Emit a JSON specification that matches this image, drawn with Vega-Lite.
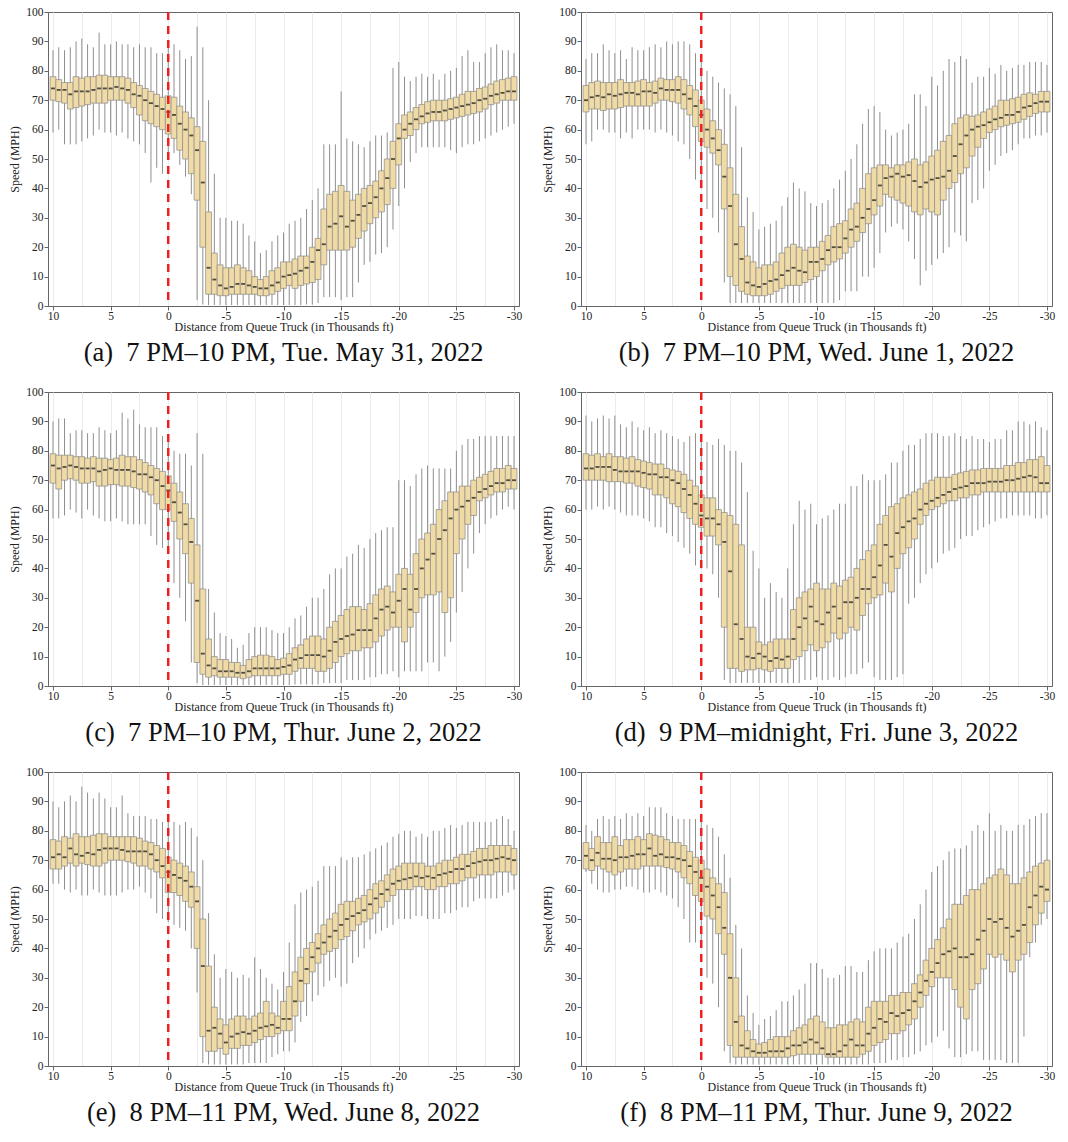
{
"$schema":"https://vega.github.io/schema/vega-lite/v6.json",
"padding":{"left":8,"top":5,"right":5,"bottom":5},
"background":"white",
"config":{
"font":"Liberation Serif",
"view":{"stroke":"#666","strokeWidth":1},
"axis":{"labelFont":"Liberation Serif","titleFont":"Liberation Serif","labelFontSize":11.5,"titleFontSize":12,"titleFontWeight":"normal","labelColor":"#222","titleColor":"#222","domainColor":"#666","tickColor":"#666","tickSize":4,"labelOverlap":false},
"title":{"font":"Liberation Serif","fontSize":26.5,"fontWeight":"normal","color":"#111","offset":7}
},
"datasets":{"d":[
{"p":"a","x":10,"lo":59,"q1":70,"md":74,"q3":78,"hi":87},
{"p":"a","x":9.5,"lo":60,"q1":69.5,"md":73.5,"q3":77,"hi":88},
{"p":"a","x":9,"lo":55,"q1":69,"md":73.5,"q3":76,"hi":87},
{"p":"a","x":8.5,"lo":55,"q1":67,"md":72,"q3":76,"hi":88},
{"p":"a","x":8,"lo":55,"q1":67.5,"md":73,"q3":78,"hi":90},
{"p":"a","x":7.5,"lo":56,"q1":68,"md":73,"q3":77.5,"hi":91},
{"p":"a","x":7,"lo":57,"q1":68.5,"md":73,"q3":78,"hi":89},
{"p":"a","x":6.5,"lo":58,"q1":69,"md":73.5,"q3":78,"hi":88},
{"p":"a","x":6,"lo":60,"q1":69,"md":74,"q3":78.5,"hi":93},
{"p":"a","x":5.5,"lo":59,"q1":69,"md":74,"q3":78.5,"hi":89},
{"p":"a","x":5,"lo":59,"q1":70,"md":74,"q3":78,"hi":89},
{"p":"a","x":4.5,"lo":58,"q1":70,"md":74.5,"q3":78,"hi":90},
{"p":"a","x":4,"lo":59,"q1":70,"md":74,"q3":78,"hi":89},
{"p":"a","x":3.5,"lo":57,"q1":69,"md":73.5,"q3":77.5,"hi":89},
{"p":"a","x":3,"lo":56,"q1":67.5,"md":72,"q3":76,"hi":88},
{"p":"a","x":2.5,"lo":55,"q1":65,"md":71.5,"q3":75,"hi":89},
{"p":"a","x":2,"lo":52,"q1":63,"md":70,"q3":74,"hi":88},
{"p":"a","x":1.5,"lo":42,"q1":62,"md":69,"q3":73,"hi":88},
{"p":"a","x":1,"lo":47,"q1":61,"md":68,"q3":72,"hi":86},
{"p":"a","x":0.5,"lo":45,"q1":60,"md":67,"q3":71,"hi":86},
{"p":"a","x":0,"lo":50,"q1":58.5,"md":66,"q3":71.5,"hi":88},
{"p":"a","x":-0.5,"lo":52,"q1":57,"md":65,"q3":71,"hi":89},
{"p":"a","x":-1,"lo":48,"q1":53,"md":62,"q3":68,"hi":87},
{"p":"a","x":-1.5,"lo":44,"q1":50,"md":60,"q3":66,"hi":84},
{"p":"a","x":-2,"lo":38,"q1":45,"md":58,"q3":64,"hi":85},
{"p":"a","x":-2.5,"lo":2,"q1":36,"md":53,"q3":61,"hi":95},
{"p":"a","x":-3,"lo":0.5,"q1":20,"md":42,"q3":56,"hi":88},
{"p":"a","x":-3.5,"lo":0.3,"q1":4,"md":13,"q3":32,"hi":70},
{"p":"a","x":-4,"lo":0.3,"q1":4,"md":9,"q3":18,"hi":45},
{"p":"a","x":-4.5,"lo":0.3,"q1":3.5,"md":7,"q3":14,"hi":30},
{"p":"a","x":-5,"lo":0.3,"q1":3.5,"md":6,"q3":13,"hi":30},
{"p":"a","x":-5.5,"lo":0.3,"q1":4,"md":6.5,"q3":13,"hi":29},
{"p":"a","x":-6,"lo":0.3,"q1":4,"md":7.5,"q3":14,"hi":29},
{"p":"a","x":-6.5,"lo":0.3,"q1":4,"md":7.5,"q3":13,"hi":28},
{"p":"a","x":-7,"lo":0.3,"q1":4,"md":7,"q3":12,"hi":24},
{"p":"a","x":-7.5,"lo":0.3,"q1":4,"md":6.5,"q3":10,"hi":22},
{"p":"a","x":-8,"lo":0.3,"q1":3.5,"md":6,"q3":9,"hi":18},
{"p":"a","x":-8.5,"lo":0.3,"q1":3.5,"md":6,"q3":10,"hi":19},
{"p":"a","x":-9,"lo":0.3,"q1":4,"md":7,"q3":12,"hi":22},
{"p":"a","x":-9.5,"lo":0.3,"q1":5,"md":8,"q3":13,"hi":24},
{"p":"a","x":-10,"lo":0.3,"q1":6,"md":10,"q3":15,"hi":25},
{"p":"a","x":-10.5,"lo":0.3,"q1":7,"md":10.5,"q3":15,"hi":28},
{"p":"a","x":-11,"lo":0.3,"q1":6,"md":11,"q3":16,"hi":29},
{"p":"a","x":-11.5,"lo":0.3,"q1":7,"md":12,"q3":17,"hi":30},
{"p":"a","x":-12,"lo":0.5,"q1":7.5,"md":13,"q3":17,"hi":33},
{"p":"a","x":-12.5,"lo":0.5,"q1":8,"md":15,"q3":20,"hi":36},
{"p":"a","x":-13,"lo":1,"q1":9,"md":19,"q3":23,"hi":40},
{"p":"a","x":-13.5,"lo":3,"q1":14,"md":21,"q3":33,"hi":55},
{"p":"a","x":-14,"lo":3,"q1":19,"md":27,"q3":38,"hi":55},
{"p":"a","x":-14.5,"lo":3,"q1":19,"md":28,"q3":39,"hi":55},
{"p":"a","x":-15,"lo":2,"q1":19,"md":30.5,"q3":41,"hi":73},
{"p":"a","x":-15.5,"lo":3,"q1":19,"md":27,"q3":39,"hi":57},
{"p":"a","x":-16,"lo":3,"q1":20,"md":29,"q3":36,"hi":56},
{"p":"a","x":-16.5,"lo":8,"q1":23,"md":31,"q3":38,"hi":55},
{"p":"a","x":-17,"lo":14,"q1":25.5,"md":34,"q3":40,"hi":54},
{"p":"a","x":-17.5,"lo":15,"q1":28,"md":35,"q3":41,"hi":56},
{"p":"a","x":-18,"lo":17.5,"q1":30,"md":37,"q3":42.5,"hi":58},
{"p":"a","x":-18.5,"lo":18,"q1":32,"md":40,"q3":46,"hi":58},
{"p":"a","x":-19,"lo":20,"q1":34.5,"md":43.5,"q3":50,"hi":59},
{"p":"a","x":-19.5,"lo":26,"q1":40,"md":50,"q3":56,"hi":81},
{"p":"a","x":-20,"lo":34,"q1":48,"md":57,"q3":62,"hi":83},
{"p":"a","x":-20.5,"lo":40,"q1":57,"md":60,"q3":65,"hi":78},
{"p":"a","x":-21,"lo":49,"q1":58,"md":62,"q3":66,"hi":76.5},
{"p":"a","x":-21.5,"lo":52,"q1":60,"md":63.5,"q3":67.5,"hi":78},
{"p":"a","x":-22,"lo":54,"q1":62,"md":64.5,"q3":68.5,"hi":79},
{"p":"a","x":-22.5,"lo":54,"q1":62.5,"md":65.5,"q3":69.5,"hi":78},
{"p":"a","x":-23,"lo":54,"q1":63,"md":66,"q3":70,"hi":79},
{"p":"a","x":-23.5,"lo":54,"q1":63,"md":66,"q3":70,"hi":77},
{"p":"a","x":-24,"lo":54,"q1":63,"md":66.5,"q3":70,"hi":79},
{"p":"a","x":-24.5,"lo":53,"q1":63.5,"md":67,"q3":70.5,"hi":80},
{"p":"a","x":-25,"lo":52,"q1":64,"md":67.5,"q3":71,"hi":81},
{"p":"a","x":-25.5,"lo":54,"q1":64.5,"md":68,"q3":72,"hi":85},
{"p":"a","x":-26,"lo":55,"q1":65,"md":68.5,"q3":73,"hi":87},
{"p":"a","x":-26.5,"lo":55,"q1":65.5,"md":69,"q3":73,"hi":83},
{"p":"a","x":-27,"lo":56,"q1":66,"md":70,"q3":74,"hi":83},
{"p":"a","x":-27.5,"lo":57,"q1":67,"md":70.5,"q3":74.5,"hi":86},
{"p":"a","x":-28,"lo":58,"q1":68.5,"md":71.5,"q3":75.5,"hi":88},
{"p":"a","x":-28.5,"lo":59,"q1":69,"md":72,"q3":76.5,"hi":89},
{"p":"a","x":-29,"lo":60,"q1":70,"md":72.5,"q3":77,"hi":87},
{"p":"a","x":-29.5,"lo":61,"q1":70,"md":73,"q3":77.5,"hi":87},
{"p":"a","x":-30,"lo":62,"q1":70,"md":73,"q3":78,"hi":86},
{"p":"b","x":10,"lo":55,"q1":66,"md":70,"q3":75,"hi":84},
{"p":"b","x":9.5,"lo":56,"q1":67,"md":71,"q3":76,"hi":86},
{"p":"b","x":9,"lo":60,"q1":67,"md":71.5,"q3":76.5,"hi":86},
{"p":"b","x":8.5,"lo":60,"q1":66.5,"md":71,"q3":76,"hi":89},
{"p":"b","x":8,"lo":59,"q1":67,"md":72,"q3":76,"hi":87},
{"p":"b","x":7.5,"lo":59,"q1":67,"md":71.5,"q3":76,"hi":86},
{"p":"b","x":7,"lo":57,"q1":67.5,"md":72,"q3":77,"hi":87},
{"p":"b","x":6.5,"lo":59,"q1":68,"md":72.5,"q3":76,"hi":84},
{"p":"b","x":6,"lo":57,"q1":68,"md":72.5,"q3":76,"hi":88},
{"p":"b","x":5.5,"lo":60,"q1":68,"md":72,"q3":76.5,"hi":87},
{"p":"b","x":5,"lo":60,"q1":68,"md":73,"q3":77,"hi":87},
{"p":"b","x":4.5,"lo":60,"q1":68,"md":73,"q3":76,"hi":88},
{"p":"b","x":4,"lo":59,"q1":69,"md":72.5,"q3":76.5,"hi":89},
{"p":"b","x":3.5,"lo":60,"q1":70,"md":74,"q3":77.5,"hi":88},
{"p":"b","x":3,"lo":59,"q1":70,"md":73.5,"q3":77,"hi":90},
{"p":"b","x":2.5,"lo":58,"q1":69.5,"md":73.5,"q3":77,"hi":89},
{"p":"b","x":2,"lo":56,"q1":69,"md":73.5,"q3":78,"hi":90},
{"p":"b","x":1.5,"lo":55,"q1":67,"md":72,"q3":77,"hi":90},
{"p":"b","x":1,"lo":50,"q1":65,"md":70.5,"q3":75,"hi":89},
{"p":"b","x":0.5,"lo":43,"q1":61,"md":68,"q3":73.5,"hi":86},
{"p":"b","x":0,"lo":40,"q1":56,"md":65,"q3":70,"hi":84},
{"p":"b","x":-0.5,"lo":33,"q1":54,"md":60,"q3":67,"hi":80},
{"p":"b","x":-1,"lo":30,"q1":52,"md":57,"q3":63,"hi":78},
{"p":"b","x":-1.5,"lo":25,"q1":48,"md":53,"q3":60,"hi":76},
{"p":"b","x":-2,"lo":8,"q1":33,"md":44,"q3":55,"hi":74},
{"p":"b","x":-2.5,"lo":1,"q1":10,"md":34,"q3":47,"hi":72},
{"p":"b","x":-3,"lo":1,"q1":7,"md":21,"q3":38,"hi":68},
{"p":"b","x":-3.5,"lo":1,"q1":5,"md":16,"q3":27,"hi":54},
{"p":"b","x":-4,"lo":1,"q1":4,"md":8,"q3":17,"hi":37},
{"p":"b","x":-4.5,"lo":1,"q1":3.5,"md":7,"q3":15,"hi":32},
{"p":"b","x":-5,"lo":1,"q1":3.5,"md":6.5,"q3":13,"hi":26},
{"p":"b","x":-5.5,"lo":1,"q1":3.5,"md":7.5,"q3":14,"hi":27},
{"p":"b","x":-6,"lo":1,"q1":4,"md":8.5,"q3":14,"hi":28},
{"p":"b","x":-6.5,"lo":1,"q1":5,"md":9,"q3":15,"hi":29},
{"p":"b","x":-7,"lo":1,"q1":6,"md":10.5,"q3":18,"hi":34},
{"p":"b","x":-7.5,"lo":1,"q1":7,"md":12,"q3":20,"hi":37},
{"p":"b","x":-8,"lo":1,"q1":7,"md":13,"q3":21,"hi":42},
{"p":"b","x":-8.5,"lo":1,"q1":7,"md":12,"q3":20,"hi":40},
{"p":"b","x":-9,"lo":1,"q1":8,"md":11.5,"q3":19,"hi":39},
{"p":"b","x":-9.5,"lo":1,"q1":9,"md":15,"q3":20,"hi":35},
{"p":"b","x":-10,"lo":1,"q1":10,"md":15,"q3":20,"hi":34},
{"p":"b","x":-10.5,"lo":1,"q1":12,"md":16,"q3":22,"hi":35},
{"p":"b","x":-11,"lo":1,"q1":14,"md":19,"q3":24,"hi":36},
{"p":"b","x":-11.5,"lo":1,"q1":15,"md":20,"q3":27,"hi":40},
{"p":"b","x":-12,"lo":2,"q1":16,"md":20,"q3":28,"hi":43},
{"p":"b","x":-12.5,"lo":5,"q1":18,"md":23,"q3":29,"hi":46},
{"p":"b","x":-13,"lo":5,"q1":20,"md":26,"q3":33,"hi":50},
{"p":"b","x":-13.5,"lo":5,"q1":22,"md":27,"q3":35,"hi":55},
{"p":"b","x":-14,"lo":10,"q1":25,"md":30,"q3":40,"hi":62},
{"p":"b","x":-14.5,"lo":10,"q1":28,"md":33,"q3":45,"hi":67},
{"p":"b","x":-15,"lo":13,"q1":31,"md":36,"q3":47,"hi":68},
{"p":"b","x":-15.5,"lo":18,"q1":34,"md":41,"q3":48,"hi":66},
{"p":"b","x":-16,"lo":25,"q1":38,"md":43.5,"q3":48,"hi":60},
{"p":"b","x":-16.5,"lo":27,"q1":37,"md":44,"q3":47,"hi":58},
{"p":"b","x":-17,"lo":28,"q1":36,"md":45,"q3":48,"hi":59},
{"p":"b","x":-17.5,"lo":26,"q1":35,"md":44,"q3":48,"hi":60},
{"p":"b","x":-18,"lo":22,"q1":34,"md":44.5,"q3":49,"hi":62},
{"p":"b","x":-18.5,"lo":16,"q1":32,"md":42.5,"q3":50,"hi":72},
{"p":"b","x":-19,"lo":7,"q1":31,"md":40.5,"q3":48,"hi":72},
{"p":"b","x":-19.5,"lo":12,"q1":33,"md":42,"q3":49,"hi":68},
{"p":"b","x":-20,"lo":14,"q1":32,"md":43,"q3":51,"hi":78},
{"p":"b","x":-20.5,"lo":16,"q1":31,"md":43.5,"q3":53,"hi":75},
{"p":"b","x":-21,"lo":18,"q1":36,"md":44,"q3":56,"hi":80},
{"p":"b","x":-21.5,"lo":20,"q1":40,"md":46,"q3":58,"hi":84},
{"p":"b","x":-22,"lo":25,"q1":42,"md":51,"q3":62,"hi":83},
{"p":"b","x":-22.5,"lo":24,"q1":45,"md":55,"q3":64,"hi":85},
{"p":"b","x":-23,"lo":22,"q1":47,"md":58,"q3":65,"hi":84},
{"p":"b","x":-23.5,"lo":35,"q1":51,"md":60,"q3":64.5,"hi":76},
{"p":"b","x":-24,"lo":36,"q1":54,"md":61,"q3":65,"hi":78},
{"p":"b","x":-24.5,"lo":40,"q1":57,"md":61.5,"q3":66,"hi":78},
{"p":"b","x":-25,"lo":46,"q1":59,"md":62.5,"q3":67,"hi":81},
{"p":"b","x":-25.5,"lo":48,"q1":60,"md":63.5,"q3":68,"hi":79},
{"p":"b","x":-26,"lo":51,"q1":61,"md":64,"q3":70,"hi":82},
{"p":"b","x":-26.5,"lo":52,"q1":61.5,"md":65,"q3":70,"hi":80},
{"p":"b","x":-27,"lo":53,"q1":62,"md":65,"q3":70.5,"hi":81},
{"p":"b","x":-27.5,"lo":55,"q1":62.5,"md":66,"q3":71,"hi":82},
{"p":"b","x":-28,"lo":57,"q1":63.5,"md":67.5,"q3":72,"hi":82},
{"p":"b","x":-28.5,"lo":57,"q1":64.5,"md":68,"q3":72.5,"hi":83},
{"p":"b","x":-29,"lo":58,"q1":65.5,"md":69,"q3":72,"hi":83},
{"p":"b","x":-29.5,"lo":58,"q1":66,"md":69.5,"q3":73,"hi":83},
{"p":"b","x":-30,"lo":59,"q1":66,"md":69.5,"q3":73,"hi":82},
{"p":"c","x":10,"lo":57,"q1":69,"md":75,"q3":79,"hi":90},
{"p":"c","x":9.5,"lo":57,"q1":67,"md":74,"q3":78.5,"hi":91},
{"p":"c","x":9,"lo":58,"q1":70,"md":74.5,"q3":78.5,"hi":91},
{"p":"c","x":8.5,"lo":60,"q1":70.5,"md":75,"q3":78.5,"hi":86},
{"p":"c","x":8,"lo":59,"q1":70,"md":74.5,"q3":78,"hi":87},
{"p":"c","x":7.5,"lo":57,"q1":69,"md":74,"q3":78,"hi":87},
{"p":"c","x":7,"lo":60,"q1":69,"md":74,"q3":77.5,"hi":86},
{"p":"c","x":6.5,"lo":58,"q1":69.5,"md":74,"q3":78,"hi":86},
{"p":"c","x":6,"lo":57,"q1":68,"md":73,"q3":77.5,"hi":88},
{"p":"c","x":5.5,"lo":56,"q1":68,"md":73.5,"q3":77.5,"hi":87},
{"p":"c","x":5,"lo":56,"q1":68.5,"md":74,"q3":77,"hi":86},
{"p":"c","x":4.5,"lo":57,"q1":68.5,"md":73.5,"q3":77.5,"hi":87},
{"p":"c","x":4,"lo":56,"q1":68,"md":73.5,"q3":78.5,"hi":93},
{"p":"c","x":3.5,"lo":55,"q1":68,"md":73.5,"q3":78,"hi":91},
{"p":"c","x":3,"lo":55,"q1":67.5,"md":73,"q3":78,"hi":94},
{"p":"c","x":2.5,"lo":55,"q1":67,"md":72,"q3":77,"hi":89},
{"p":"c","x":2,"lo":55,"q1":66,"md":72,"q3":76,"hi":88},
{"p":"c","x":1.5,"lo":51,"q1":65,"md":71,"q3":75,"hi":88},
{"p":"c","x":1,"lo":48,"q1":62,"md":70,"q3":74,"hi":88},
{"p":"c","x":0.5,"lo":47,"q1":60,"md":68,"q3":73,"hi":85},
{"p":"c","x":0,"lo":46,"q1":60,"md":66.5,"q3":71.5,"hi":85},
{"p":"c","x":-0.5,"lo":35,"q1":56,"md":62.5,"q3":69,"hi":80},
{"p":"c","x":-1,"lo":30,"q1":50,"md":59,"q3":66,"hi":79},
{"p":"c","x":-1.5,"lo":22,"q1":45,"md":55,"q3":62,"hi":79},
{"p":"c","x":-2,"lo":8,"q1":35,"md":49,"q3":57,"hi":75},
{"p":"c","x":-2.5,"lo":1,"q1":8,"md":29,"q3":48,"hi":86},
{"p":"c","x":-3,"lo":0.3,"q1":4,"md":11,"q3":33,"hi":79},
{"p":"c","x":-3.5,"lo":0.3,"q1":3,"md":7,"q3":16,"hi":33},
{"p":"c","x":-4,"lo":0.3,"q1":3.5,"md":6,"q3":10,"hi":25},
{"p":"c","x":-4.5,"lo":0.3,"q1":3,"md":5,"q3":9,"hi":18},
{"p":"c","x":-5,"lo":0.3,"q1":3,"md":5,"q3":9,"hi":17},
{"p":"c","x":-5.5,"lo":0.3,"q1":3,"md":5,"q3":8,"hi":16},
{"p":"c","x":-6,"lo":0.3,"q1":3,"md":4.5,"q3":8,"hi":13},
{"p":"c","x":-6.5,"lo":0.3,"q1":2.5,"md":4.5,"q3":7,"hi":14},
{"p":"c","x":-7,"lo":0.3,"q1":3,"md":5,"q3":9,"hi":18},
{"p":"c","x":-7.5,"lo":0.3,"q1":3.5,"md":6,"q3":10,"hi":20},
{"p":"c","x":-8,"lo":0.3,"q1":3.5,"md":6,"q3":10.5,"hi":20},
{"p":"c","x":-8.5,"lo":0.3,"q1":3.5,"md":6,"q3":10.5,"hi":20},
{"p":"c","x":-9,"lo":0.3,"q1":3.5,"md":6,"q3":10,"hi":19},
{"p":"c","x":-9.5,"lo":0.3,"q1":3.5,"md":6,"q3":9,"hi":18},
{"p":"c","x":-10,"lo":0.3,"q1":4,"md":6.5,"q3":9.5,"hi":18},
{"p":"c","x":-10.5,"lo":0.3,"q1":4,"md":7,"q3":11,"hi":20},
{"p":"c","x":-11,"lo":0.5,"q1":5,"md":9,"q3":13,"hi":23},
{"p":"c","x":-11.5,"lo":0.5,"q1":6,"md":9.5,"q3":14,"hi":24},
{"p":"c","x":-12,"lo":0.5,"q1":6,"md":10.5,"q3":16,"hi":27},
{"p":"c","x":-12.5,"lo":0.5,"q1":6,"md":10.5,"q3":17,"hi":30},
{"p":"c","x":-13,"lo":0.5,"q1":5,"md":10.5,"q3":17,"hi":30},
{"p":"c","x":-13.5,"lo":1,"q1":5,"md":10,"q3":16,"hi":33},
{"p":"c","x":-14,"lo":1,"q1":6,"md":12,"q3":20,"hi":38},
{"p":"c","x":-14.5,"lo":1,"q1":8,"md":15,"q3":22,"hi":40},
{"p":"c","x":-15,"lo":1,"q1":10,"md":16,"q3":24,"hi":40},
{"p":"c","x":-15.5,"lo":2,"q1":11,"md":17,"q3":26,"hi":44},
{"p":"c","x":-16,"lo":2,"q1":12,"md":17.5,"q3":27,"hi":45},
{"p":"c","x":-16.5,"lo":2,"q1":12,"md":19,"q3":27,"hi":48},
{"p":"c","x":-17,"lo":2,"q1":13,"md":19,"q3":26,"hi":47},
{"p":"c","x":-17.5,"lo":3,"q1":13,"md":19,"q3":28,"hi":50},
{"p":"c","x":-18,"lo":3,"q1":15,"md":23,"q3":31,"hi":52},
{"p":"c","x":-18.5,"lo":4,"q1":17,"md":26,"q3":33,"hi":53},
{"p":"c","x":-19,"lo":4,"q1":19,"md":27,"q3":34,"hi":54},
{"p":"c","x":-19.5,"lo":5,"q1":20,"md":25,"q3":32,"hi":54},
{"p":"c","x":-20,"lo":3,"q1":20,"md":29,"q3":38,"hi":70},
{"p":"c","x":-20.5,"lo":5,"q1":15,"md":33,"q3":40,"hi":70},
{"p":"c","x":-21,"lo":5,"q1":20,"md":26,"q3":38,"hi":68},
{"p":"c","x":-21.5,"lo":5,"q1":25,"md":33,"q3":45,"hi":72},
{"p":"c","x":-22,"lo":5,"q1":30,"md":40,"q3":50,"hi":74},
{"p":"c","x":-22.5,"lo":8,"q1":31,"md":43,"q3":52,"hi":75},
{"p":"c","x":-23,"lo":8,"q1":31,"md":45,"q3":55,"hi":74},
{"p":"c","x":-23.5,"lo":5,"q1":32,"md":50,"q3":60,"hi":74},
{"p":"c","x":-24,"lo":10,"q1":25,"md":53,"q3":63,"hi":74},
{"p":"c","x":-24.5,"lo":15,"q1":30,"md":57,"q3":66,"hi":74},
{"p":"c","x":-25,"lo":25,"q1":45,"md":60,"q3":66,"hi":80},
{"p":"c","x":-25.5,"lo":32,"q1":50,"md":61,"q3":68,"hi":82},
{"p":"c","x":-26,"lo":40,"q1":55,"md":63,"q3":68,"hi":84},
{"p":"c","x":-26.5,"lo":45,"q1":58,"md":64,"q3":70,"hi":84},
{"p":"c","x":-27,"lo":52,"q1":63,"md":66,"q3":71,"hi":85},
{"p":"c","x":-27.5,"lo":55,"q1":64,"md":67,"q3":72,"hi":85},
{"p":"c","x":-28,"lo":57,"q1":65,"md":68,"q3":73,"hi":85},
{"p":"c","x":-28.5,"lo":58,"q1":66,"md":69,"q3":74,"hi":85},
{"p":"c","x":-29,"lo":60,"q1":66,"md":69,"q3":74,"hi":85},
{"p":"c","x":-29.5,"lo":61,"q1":67,"md":70,"q3":75,"hi":85},
{"p":"c","x":-30,"lo":60,"q1":67,"md":70,"q3":74,"hi":85},
{"p":"d","x":10,"lo":60,"q1":70,"md":74,"q3":79,"hi":92},
{"p":"d","x":9.5,"lo":60,"q1":70,"md":74,"q3":78.5,"hi":90},
{"p":"d","x":9,"lo":61,"q1":70,"md":74.5,"q3":79,"hi":91},
{"p":"d","x":8.5,"lo":60,"q1":70,"md":74.5,"q3":78,"hi":92},
{"p":"d","x":8,"lo":61,"q1":69.5,"md":74.5,"q3":79,"hi":91},
{"p":"d","x":7.5,"lo":60,"q1":69.5,"md":73.5,"q3":78,"hi":92},
{"p":"d","x":7,"lo":59,"q1":69.5,"md":73,"q3":78,"hi":89},
{"p":"d","x":6.5,"lo":58,"q1":69,"md":73,"q3":77.5,"hi":88},
{"p":"d","x":6,"lo":58,"q1":69,"md":73,"q3":78,"hi":90},
{"p":"d","x":5.5,"lo":58,"q1":68,"md":73,"q3":77,"hi":88},
{"p":"d","x":5,"lo":57,"q1":67.5,"md":72.5,"q3":76.5,"hi":87},
{"p":"d","x":4.5,"lo":56,"q1":67,"md":72,"q3":76,"hi":88},
{"p":"d","x":4,"lo":54,"q1":65,"md":72,"q3":75.5,"hi":86},
{"p":"d","x":3.5,"lo":54,"q1":65,"md":71,"q3":75.5,"hi":87},
{"p":"d","x":3,"lo":52,"q1":64,"md":71,"q3":74,"hi":86},
{"p":"d","x":2.5,"lo":51,"q1":62,"md":70,"q3":73.5,"hi":85},
{"p":"d","x":2,"lo":49,"q1":61,"md":69,"q3":73,"hi":84},
{"p":"d","x":1.5,"lo":47,"q1":59,"md":67,"q3":72,"hi":83},
{"p":"d","x":1,"lo":45,"q1":57,"md":65,"q3":70,"hi":85},
{"p":"d","x":0.5,"lo":41,"q1":55,"md":62,"q3":68,"hi":86},
{"p":"d","x":0,"lo":40,"q1":54,"md":58,"q3":65,"hi":84},
{"p":"d","x":-0.5,"lo":40,"q1":51,"md":57,"q3":64,"hi":83},
{"p":"d","x":-1,"lo":38,"q1":51,"md":57,"q3":64,"hi":82},
{"p":"d","x":-1.5,"lo":30,"q1":48,"md":55,"q3":60,"hi":84},
{"p":"d","x":-2,"lo":2,"q1":20,"md":49,"q3":59,"hi":82},
{"p":"d","x":-2.5,"lo":1,"q1":6,"md":39,"q3":58,"hi":80},
{"p":"d","x":-3,"lo":1,"q1":6,"md":21,"q3":55,"hi":80},
{"p":"d","x":-3.5,"lo":1,"q1":5,"md":16,"q3":48,"hi":76},
{"p":"d","x":-4,"lo":1,"q1":5.5,"md":10,"q3":20,"hi":66},
{"p":"d","x":-4.5,"lo":1,"q1":5.5,"md":9.5,"q3":20,"hi":46},
{"p":"d","x":-5,"lo":1,"q1":6,"md":11,"q3":15,"hi":40},
{"p":"d","x":-5.5,"lo":1,"q1":5.5,"md":10,"q3":14,"hi":30},
{"p":"d","x":-6,"lo":1,"q1":5,"md":8.5,"q3":15,"hi":35},
{"p":"d","x":-6.5,"lo":1,"q1":6,"md":9.5,"q3":16,"hi":32},
{"p":"d","x":-7,"lo":1,"q1":6,"md":9,"q3":16,"hi":30},
{"p":"d","x":-7.5,"lo":1,"q1":6,"md":10,"q3":16,"hi":40},
{"p":"d","x":-8,"lo":1,"q1":9,"md":16,"q3":26,"hi":55},
{"p":"d","x":-8.5,"lo":1,"q1":10,"md":20,"q3":30,"hi":63},
{"p":"d","x":-9,"lo":2,"q1":12,"md":23,"q3":32,"hi":60},
{"p":"d","x":-9.5,"lo":2,"q1":14,"md":27,"q3":33,"hi":62},
{"p":"d","x":-10,"lo":3,"q1":12,"md":22,"q3":35,"hi":55},
{"p":"d","x":-10.5,"lo":2,"q1":13,"md":21,"q3":33,"hi":57},
{"p":"d","x":-11,"lo":2,"q1":15,"md":25,"q3":33,"hi":58},
{"p":"d","x":-11.5,"lo":3,"q1":18,"md":27,"q3":35,"hi":60},
{"p":"d","x":-12,"lo":2,"q1":16,"md":23,"q3":34,"hi":62},
{"p":"d","x":-12.5,"lo":3,"q1":18,"md":28.5,"q3":36,"hi":62},
{"p":"d","x":-13,"lo":4,"q1":20,"md":28.5,"q3":37,"hi":68},
{"p":"d","x":-13.5,"lo":4,"q1":19,"md":30,"q3":40,"hi":68},
{"p":"d","x":-14,"lo":6,"q1":24,"md":33,"q3":43,"hi":72},
{"p":"d","x":-14.5,"lo":8,"q1":28,"md":33,"q3":46,"hi":70},
{"p":"d","x":-15,"lo":3,"q1":30,"md":37,"q3":48,"hi":70},
{"p":"d","x":-15.5,"lo":2,"q1":31,"md":41,"q3":55,"hi":70},
{"p":"d","x":-16,"lo":2,"q1":35,"md":48,"q3":58,"hi":72},
{"p":"d","x":-16.5,"lo":2,"q1":32,"md":44,"q3":61,"hi":76},
{"p":"d","x":-17,"lo":3,"q1":40,"md":52,"q3":62,"hi":76},
{"p":"d","x":-17.5,"lo":4,"q1":45,"md":54,"q3":64,"hi":80},
{"p":"d","x":-18,"lo":28,"q1":47,"md":56,"q3":65,"hi":82},
{"p":"d","x":-18.5,"lo":30,"q1":50,"md":57,"q3":66,"hi":82},
{"p":"d","x":-19,"lo":35,"q1":55,"md":60,"q3":67,"hi":84},
{"p":"d","x":-19.5,"lo":38,"q1":58,"md":62,"q3":69,"hi":86},
{"p":"d","x":-20,"lo":40,"q1":60,"md":63,"q3":70,"hi":86},
{"p":"d","x":-20.5,"lo":42,"q1":61,"md":64,"q3":71,"hi":86},
{"p":"d","x":-21,"lo":45,"q1":62,"md":65,"q3":71,"hi":85},
{"p":"d","x":-21.5,"lo":46,"q1":63,"md":66,"q3":71,"hi":85},
{"p":"d","x":-22,"lo":47,"q1":63,"md":67,"q3":72,"hi":86},
{"p":"d","x":-22.5,"lo":50,"q1":64,"md":67.5,"q3":72.5,"hi":85},
{"p":"d","x":-23,"lo":51,"q1":64,"md":68,"q3":73,"hi":84},
{"p":"d","x":-23.5,"lo":51,"q1":65,"md":69,"q3":73.5,"hi":85},
{"p":"d","x":-24,"lo":53,"q1":65,"md":69,"q3":73.5,"hi":84},
{"p":"d","x":-24.5,"lo":54,"q1":66,"md":69,"q3":74,"hi":84},
{"p":"d","x":-25,"lo":55,"q1":66,"md":69.5,"q3":74,"hi":83},
{"p":"d","x":-25.5,"lo":56,"q1":66,"md":69.5,"q3":74,"hi":84},
{"p":"d","x":-26,"lo":57,"q1":66,"md":69.5,"q3":74,"hi":84},
{"p":"d","x":-26.5,"lo":57,"q1":66,"md":70,"q3":75,"hi":87},
{"p":"d","x":-27,"lo":58,"q1":66,"md":70,"q3":75,"hi":87},
{"p":"d","x":-27.5,"lo":58,"q1":66,"md":70.5,"q3":76,"hi":90},
{"p":"d","x":-28,"lo":58,"q1":66,"md":71,"q3":76,"hi":90},
{"p":"d","x":-28.5,"lo":58,"q1":66,"md":71.5,"q3":77,"hi":89},
{"p":"d","x":-29,"lo":57,"q1":66,"md":71,"q3":77,"hi":90},
{"p":"d","x":-29.5,"lo":57,"q1":66,"md":69,"q3":78,"hi":88},
{"p":"d","x":-30,"lo":58,"q1":66,"md":69,"q3":75,"hi":87},
{"p":"e","x":10,"lo":62,"q1":67,"md":71,"q3":77,"hi":90},
{"p":"e","x":9.5,"lo":62,"q1":67,"md":72,"q3":76.5,"hi":88},
{"p":"e","x":9,"lo":60,"q1":68,"md":71,"q3":78,"hi":90},
{"p":"e","x":8.5,"lo":59,"q1":69,"md":74,"q3":77.5,"hi":92},
{"p":"e","x":8,"lo":60,"q1":68,"md":72,"q3":79,"hi":90},
{"p":"e","x":7.5,"lo":58,"q1":69,"md":71.5,"q3":78,"hi":95},
{"p":"e","x":7,"lo":58,"q1":68.5,"md":72.5,"q3":78,"hi":93},
{"p":"e","x":6.5,"lo":60,"q1":68,"md":72,"q3":78.5,"hi":91},
{"p":"e","x":6,"lo":59,"q1":68,"md":73.5,"q3":79,"hi":93},
{"p":"e","x":5.5,"lo":58,"q1":69,"md":74,"q3":79,"hi":91},
{"p":"e","x":5,"lo":58,"q1":70,"md":74,"q3":78,"hi":88},
{"p":"e","x":4.5,"lo":58,"q1":70,"md":74,"q3":78,"hi":88},
{"p":"e","x":4,"lo":59,"q1":70,"md":73.5,"q3":78,"hi":92},
{"p":"e","x":3.5,"lo":60,"q1":69.5,"md":73,"q3":78,"hi":86},
{"p":"e","x":3,"lo":60,"q1":69,"md":73,"q3":78,"hi":85},
{"p":"e","x":2.5,"lo":61,"q1":68,"md":73,"q3":77.5,"hi":85},
{"p":"e","x":2,"lo":59,"q1":68,"md":73,"q3":76.5,"hi":85},
{"p":"e","x":1.5,"lo":57,"q1":67,"md":72,"q3":76,"hi":84},
{"p":"e","x":1,"lo":52,"q1":66,"md":70,"q3":75,"hi":84},
{"p":"e","x":0.5,"lo":50,"q1":64,"md":68,"q3":74,"hi":83},
{"p":"e","x":0,"lo":49,"q1":59,"md":66,"q3":71,"hi":84},
{"p":"e","x":-0.5,"lo":48,"q1":59,"md":65,"q3":70,"hi":83},
{"p":"e","x":-1,"lo":47,"q1":58,"md":64,"q3":69,"hi":82},
{"p":"e","x":-1.5,"lo":46,"q1":56,"md":63,"q3":68,"hi":83},
{"p":"e","x":-2,"lo":40,"q1":54,"md":61,"q3":66,"hi":81},
{"p":"e","x":-2.5,"lo":25,"q1":40,"md":56,"q3":61,"hi":78},
{"p":"e","x":-3,"lo":1,"q1":10,"md":34,"q3":50,"hi":70},
{"p":"e","x":-3.5,"lo":0.5,"q1":5,"md":12,"q3":34,"hi":52},
{"p":"e","x":-4,"lo":0.5,"q1":5,"md":13,"q3":20,"hi":38},
{"p":"e","x":-4.5,"lo":0.5,"q1":6,"md":11,"q3":16,"hi":30},
{"p":"e","x":-5,"lo":0.5,"q1":4,"md":8,"q3":14,"hi":33},
{"p":"e","x":-5.5,"lo":0.5,"q1":6,"md":10,"q3":16,"hi":32},
{"p":"e","x":-6,"lo":0.5,"q1":6,"md":11,"q3":17,"hi":30},
{"p":"e","x":-6.5,"lo":0.5,"q1":7,"md":11.5,"q3":17,"hi":31},
{"p":"e","x":-7,"lo":1,"q1":7,"md":11,"q3":16,"hi":30},
{"p":"e","x":-7.5,"lo":1,"q1":8,"md":12,"q3":17,"hi":37},
{"p":"e","x":-8,"lo":1,"q1":9,"md":13,"q3":18,"hi":33},
{"p":"e","x":-8.5,"lo":1,"q1":10,"md":13.5,"q3":22,"hi":30},
{"p":"e","x":-9,"lo":3,"q1":10,"md":14,"q3":18,"hi":28},
{"p":"e","x":-9.5,"lo":4,"q1":11,"md":13,"q3":17,"hi":26},
{"p":"e","x":-10,"lo":5,"q1":12,"md":16,"q3":22,"hi":32},
{"p":"e","x":-10.5,"lo":5,"q1":12,"md":16,"q3":27,"hi":42},
{"p":"e","x":-11,"lo":8,"q1":17,"md":22,"q3":32,"hi":55},
{"p":"e","x":-11.5,"lo":15,"q1":22,"md":29,"q3":37,"hi":59},
{"p":"e","x":-12,"lo":17,"q1":28,"md":33,"q3":40,"hi":60},
{"p":"e","x":-12.5,"lo":22,"q1":32,"md":37,"q3":42,"hi":61},
{"p":"e","x":-13,"lo":24,"q1":35,"md":40,"q3":45,"hi":63},
{"p":"e","x":-13.5,"lo":27,"q1":38,"md":42,"q3":48,"hi":68},
{"p":"e","x":-14,"lo":29,"q1":39,"md":44,"q3":50,"hi":68},
{"p":"e","x":-14.5,"lo":30,"q1":40,"md":46,"q3":52,"hi":68},
{"p":"e","x":-15,"lo":27,"q1":43,"md":48,"q3":55,"hi":71},
{"p":"e","x":-15.5,"lo":28,"q1":44,"md":50,"q3":56,"hi":70},
{"p":"e","x":-16,"lo":35,"q1":46,"md":51,"q3":56,"hi":71},
{"p":"e","x":-16.5,"lo":37,"q1":48,"md":52,"q3":57,"hi":71},
{"p":"e","x":-17,"lo":40,"q1":49,"md":53,"q3":58,"hi":72},
{"p":"e","x":-17.5,"lo":43,"q1":50,"md":55,"q3":60,"hi":73},
{"p":"e","x":-18,"lo":45,"q1":52,"md":57,"q3":62,"hi":74},
{"p":"e","x":-18.5,"lo":46,"q1":54,"md":58.5,"q3":63,"hi":75},
{"p":"e","x":-19,"lo":47,"q1":56,"md":60,"q3":65,"hi":76},
{"p":"e","x":-19.5,"lo":48,"q1":58,"md":62,"q3":67,"hi":78},
{"p":"e","x":-20,"lo":50,"q1":60,"md":63,"q3":68,"hi":79},
{"p":"e","x":-20.5,"lo":50,"q1":60,"md":63.5,"q3":69,"hi":80},
{"p":"e","x":-21,"lo":50,"q1":60,"md":64,"q3":69,"hi":80},
{"p":"e","x":-21.5,"lo":51,"q1":61,"md":64.5,"q3":69,"hi":78},
{"p":"e","x":-22,"lo":51,"q1":61,"md":64,"q3":69,"hi":79},
{"p":"e","x":-22.5,"lo":50,"q1":60,"md":64.5,"q3":68,"hi":78},
{"p":"e","x":-23,"lo":50,"q1":60,"md":64,"q3":68,"hi":80},
{"p":"e","x":-23.5,"lo":50,"q1":61,"md":65,"q3":69,"hi":80},
{"p":"e","x":-24,"lo":52,"q1":61,"md":65.5,"q3":70,"hi":81},
{"p":"e","x":-24.5,"lo":52,"q1":62,"md":66,"q3":70,"hi":82},
{"p":"e","x":-25,"lo":53,"q1":62,"md":67,"q3":71,"hi":81},
{"p":"e","x":-25.5,"lo":54,"q1":63,"md":67,"q3":72,"hi":82},
{"p":"e","x":-26,"lo":54,"q1":64,"md":68,"q3":72,"hi":83},
{"p":"e","x":-26.5,"lo":56,"q1":64,"md":69,"q3":73,"hi":83},
{"p":"e","x":-27,"lo":57,"q1":65,"md":69.5,"q3":74,"hi":83},
{"p":"e","x":-27.5,"lo":57,"q1":65,"md":70,"q3":74,"hi":83},
{"p":"e","x":-28,"lo":57,"q1":65,"md":70,"q3":75,"hi":83},
{"p":"e","x":-28.5,"lo":57,"q1":66,"md":70.5,"q3":75,"hi":84},
{"p":"e","x":-29,"lo":58,"q1":66,"md":71,"q3":75,"hi":85},
{"p":"e","x":-29.5,"lo":59,"q1":66,"md":70.5,"q3":75,"hi":84},
{"p":"e","x":-30,"lo":60,"q1":65,"md":70,"q3":74,"hi":80},
{"p":"f","x":10,"lo":66,"q1":67,"md":71.5,"q3":76,"hi":82},
{"p":"f","x":9.5,"lo":62,"q1":66.5,"md":70,"q3":74,"hi":80},
{"p":"f","x":9,"lo":60,"q1":68,"md":72.5,"q3":78,"hi":84},
{"p":"f","x":8.5,"lo":59,"q1":67,"md":70.5,"q3":76,"hi":85},
{"p":"f","x":8,"lo":59,"q1":66,"md":70.5,"q3":76,"hi":84},
{"p":"f","x":7.5,"lo":60,"q1":65,"md":70,"q3":78,"hi":85},
{"p":"f","x":7,"lo":60,"q1":66,"md":71,"q3":75,"hi":84},
{"p":"f","x":6.5,"lo":61,"q1":67,"md":71,"q3":77,"hi":86},
{"p":"f","x":6,"lo":61,"q1":67,"md":71.5,"q3":77,"hi":85},
{"p":"f","x":5.5,"lo":60,"q1":67,"md":72,"q3":78,"hi":86},
{"p":"f","x":5,"lo":59,"q1":68,"md":72,"q3":77,"hi":85},
{"p":"f","x":4.5,"lo":59,"q1":68,"md":74,"q3":79,"hi":88},
{"p":"f","x":4,"lo":60,"q1":68,"md":71.5,"q3":78.5,"hi":88},
{"p":"f","x":3.5,"lo":59,"q1":68,"md":72,"q3":78,"hi":88},
{"p":"f","x":3,"lo":58,"q1":67.5,"md":71,"q3":77,"hi":86},
{"p":"f","x":2.5,"lo":57,"q1":67,"md":71,"q3":76,"hi":85},
{"p":"f","x":2,"lo":54,"q1":66,"md":70.5,"q3":76,"hi":84},
{"p":"f","x":1.5,"lo":50,"q1":64,"md":70,"q3":75,"hi":84},
{"p":"f","x":1,"lo":42,"q1":62,"md":68,"q3":73,"hi":84},
{"p":"f","x":0.5,"lo":42,"q1":58,"md":66,"q3":71,"hi":84},
{"p":"f","x":0,"lo":42,"q1":56,"md":64,"q3":70,"hi":84},
{"p":"f","x":-0.5,"lo":30,"q1":51,"md":61,"q3":67,"hi":82},
{"p":"f","x":-1,"lo":28,"q1":50,"md":58,"q3":64,"hi":81},
{"p":"f","x":-1.5,"lo":20,"q1":45,"md":54,"q3":62,"hi":78},
{"p":"f","x":-2,"lo":5,"q1":38,"md":47,"q3":59,"hi":72},
{"p":"f","x":-2.5,"lo":1,"q1":7,"md":30,"q3":45,"hi":64},
{"p":"f","x":-3,"lo":0.5,"q1":3,"md":15,"q3":30,"hi":48},
{"p":"f","x":-3.5,"lo":0.5,"q1":3,"md":7,"q3":17,"hi":40},
{"p":"f","x":-4,"lo":0.5,"q1":3,"md":6,"q3":12,"hi":24},
{"p":"f","x":-4.5,"lo":0.5,"q1":3,"md":5,"q3":9,"hi":18},
{"p":"f","x":-5,"lo":0.5,"q1":3,"md":4.5,"q3":7.5,"hi":14},
{"p":"f","x":-5.5,"lo":0.5,"q1":3,"md":4.5,"q3":8,"hi":16},
{"p":"f","x":-6,"lo":0.5,"q1":3,"md":5,"q3":9,"hi":17},
{"p":"f","x":-6.5,"lo":0.5,"q1":3,"md":5,"q3":10,"hi":19},
{"p":"f","x":-7,"lo":0.5,"q1":3,"md":5,"q3":10,"hi":22},
{"p":"f","x":-7.5,"lo":0.5,"q1":3,"md":6,"q3":10,"hi":22},
{"p":"f","x":-8,"lo":0.5,"q1":3.5,"md":7,"q3":12,"hi":24},
{"p":"f","x":-8.5,"lo":0.5,"q1":4,"md":7,"q3":13,"hi":26},
{"p":"f","x":-9,"lo":0.5,"q1":4,"md":8,"q3":14,"hi":28},
{"p":"f","x":-9.5,"lo":0.5,"q1":4,"md":9,"q3":16,"hi":35},
{"p":"f","x":-10,"lo":0.5,"q1":4,"md":8,"q3":17,"hi":35},
{"p":"f","x":-10.5,"lo":0.5,"q1":4,"md":6,"q3":15,"hi":33},
{"p":"f","x":-11,"lo":0.5,"q1":3,"md":4,"q3":13,"hi":30},
{"p":"f","x":-11.5,"lo":0.5,"q1":3,"md":4,"q3":13,"hi":30},
{"p":"f","x":-12,"lo":0.5,"q1":3,"md":5,"q3":14,"hi":31},
{"p":"f","x":-12.5,"lo":0.5,"q1":3,"md":7,"q3":14,"hi":34},
{"p":"f","x":-13,"lo":0.5,"q1":3,"md":9,"q3":15,"hi":34},
{"p":"f","x":-13.5,"lo":0.5,"q1":3,"md":7,"q3":16,"hi":32},
{"p":"f","x":-14,"lo":0.5,"q1":4,"md":7,"q3":15,"hi":32},
{"p":"f","x":-14.5,"lo":0.5,"q1":5,"md":11,"q3":20,"hi":36},
{"p":"f","x":-15,"lo":1,"q1":7,"md":13,"q3":22,"hi":39},
{"p":"f","x":-15.5,"lo":1,"q1":8,"md":16,"q3":22,"hi":40},
{"p":"f","x":-16,"lo":1,"q1":9,"md":15,"q3":22,"hi":40},
{"p":"f","x":-16.5,"lo":2,"q1":11,"md":18,"q3":24,"hi":40},
{"p":"f","x":-17,"lo":2,"q1":11,"md":17,"q3":24,"hi":42},
{"p":"f","x":-17.5,"lo":3,"q1":12,"md":18,"q3":25,"hi":44},
{"p":"f","x":-18,"lo":3,"q1":14,"md":19,"q3":25,"hi":45},
{"p":"f","x":-18.5,"lo":4,"q1":16,"md":22,"q3":28,"hi":50},
{"p":"f","x":-19,"lo":5,"q1":20,"md":25,"q3":31,"hi":55},
{"p":"f","x":-19.5,"lo":7,"q1":24,"md":29,"q3":36,"hi":60},
{"p":"f","x":-20,"lo":8,"q1":27,"md":32,"q3":40,"hi":66},
{"p":"f","x":-20.5,"lo":10,"q1":30,"md":35,"q3":43,"hi":68},
{"p":"f","x":-21,"lo":12,"q1":30,"md":38,"q3":47,"hi":70},
{"p":"f","x":-21.5,"lo":6,"q1":30,"md":39,"q3":50,"hi":73},
{"p":"f","x":-22,"lo":3,"q1":26,"md":40,"q3":55,"hi":74},
{"p":"f","x":-22.5,"lo":3,"q1":20,"md":37,"q3":55,"hi":74},
{"p":"f","x":-23,"lo":4,"q1":16,"md":37,"q3":58,"hi":75},
{"p":"f","x":-23.5,"lo":5,"q1":26,"md":38,"q3":60,"hi":80},
{"p":"f","x":-24,"lo":5,"q1":28,"md":43,"q3":60,"hi":82},
{"p":"f","x":-24.5,"lo":2,"q1":33,"md":46,"q3":62,"hi":80},
{"p":"f","x":-25,"lo":2,"q1":38,"md":50,"q3":64,"hi":86},
{"p":"f","x":-25.5,"lo":2,"q1":37,"md":49,"q3":65,"hi":80},
{"p":"f","x":-26,"lo":2,"q1":38,"md":50,"q3":67,"hi":82},
{"p":"f","x":-26.5,"lo":1,"q1":36,"md":47,"q3":65,"hi":80},
{"p":"f","x":-27,"lo":1,"q1":32,"md":44,"q3":62,"hi":80},
{"p":"f","x":-27.5,"lo":1,"q1":36,"md":46,"q3":62,"hi":82},
{"p":"f","x":-28,"lo":10,"q1":38,"md":48,"q3":64,"hi":82},
{"p":"f","x":-28.5,"lo":37,"q1":42,"md":54,"q3":66,"hi":84},
{"p":"f","x":-29,"lo":42,"q1":48,"md":58,"q3":68,"hi":85},
{"p":"f","x":-29.5,"lo":48,"q1":52,"md":61,"q3":69,"hi":86},
{"p":"f","x":-30,"lo":50,"q1":56,"md":60,"q3":70,"hi":86}
]},
"spacing":18,
"vconcat":[
{"spacing":18,"hconcat":[
{"width":471,"height":294,"data":{"name":"d"},"transform":[{"filter":"datum.p=='a'"}],"title":{"text":"(a)\u00a0 7 PM\u201310 PM, Tue. May 31, 2022","orient":"bottom"},
"encoding":{"x":{"field":"x","type":"quantitative","title":"Distance from Queue Truck (in Thousands ft)","scale":{"domain":[-30,10],"reverse":true,"nice":false},"axis":{"values":[10,7.5,5,2.5,0,-2.5,-5,-7.5,-10,-12.5,-15,-17.5,-20,-22.5,-25,-27.5,-30],"labelExpr":"datum.value % 5 == 0 ? '' + datum.value : ''","tickOpacity":{"condition":{"test":"datum.value % 5 != 0","value":0},"value":1},"grid":true,"gridColor":"#e9ecef","labelPadding":0,"titlePadding":0}}},
"layer":[
{"mark":{"type":"rule","color":"#8f8f8f","strokeWidth":1},"encoding":{"y":{"field":"lo","type":"quantitative","title":"Speed (MPH)","scale":{"domain":[0,100],"nice":false},"axis":{"values":[0,10,20,30,40,50,60,70,80,90,100],"grid":false,"labelOverlap":false,"labelPadding":1,"titlePadding":4}},"y2":{"field":"hi"}}},
{"mark":{"type":"bar","fill":"#f0dba6","stroke":"#8a8a8a","strokeWidth":0.7,"width":5.9},"encoding":{"y":{"field":"q1","type":"quantitative","title":"Speed (MPH)","axis":{"values":[0,10,20,30,40,50,60,70,80,90,100],"grid":false,"labelOverlap":false,"labelPadding":1,"titlePadding":4}},"y2":{"field":"q3"}}},
{"mark":{"type":"tick","orient":"horizontal","color":"#111","thickness":1.8,"size":4},"encoding":{"y":{"field":"md","type":"quantitative","title":"Speed (MPH)","axis":{"values":[0,10,20,30,40,50,60,70,80,90,100],"grid":false,"labelOverlap":false,"labelPadding":1,"titlePadding":4}}}},
{"data":{"values":[{"v":0}]},"mark":{"type":"rule","color":"#ee2020","strokeWidth":2.5,"strokeDash":[8,6]},"encoding":{"x":{"field":"v","type":"quantitative"}}}
]},
{"width":471,"height":294,"data":{"name":"d"},"transform":[{"filter":"datum.p=='b'"}],"title":{"text":"(b)\u00a0 7 PM\u201310 PM, Wed. June 1, 2022","orient":"bottom"},
"encoding":{"x":{"field":"x","type":"quantitative","title":"Distance from Queue Truck (in Thousands ft)","scale":{"domain":[-30,10],"reverse":true,"nice":false},"axis":{"values":[10,7.5,5,2.5,0,-2.5,-5,-7.5,-10,-12.5,-15,-17.5,-20,-22.5,-25,-27.5,-30],"labelExpr":"datum.value % 5 == 0 ? '' + datum.value : ''","tickOpacity":{"condition":{"test":"datum.value % 5 != 0","value":0},"value":1},"grid":true,"gridColor":"#e9ecef","labelPadding":0,"titlePadding":0}}},
"layer":[
{"mark":{"type":"rule","color":"#8f8f8f","strokeWidth":1},"encoding":{"y":{"field":"lo","type":"quantitative","title":"Speed (MPH)","scale":{"domain":[0,100],"nice":false},"axis":{"values":[0,10,20,30,40,50,60,70,80,90,100],"grid":false,"labelOverlap":false,"labelPadding":1,"titlePadding":4}},"y2":{"field":"hi"}}},
{"mark":{"type":"bar","fill":"#f0dba6","stroke":"#8a8a8a","strokeWidth":0.7,"width":5.9},"encoding":{"y":{"field":"q1","type":"quantitative","title":"Speed (MPH)","axis":{"values":[0,10,20,30,40,50,60,70,80,90,100],"grid":false,"labelOverlap":false,"labelPadding":1,"titlePadding":4}},"y2":{"field":"q3"}}},
{"mark":{"type":"tick","orient":"horizontal","color":"#111","thickness":1.8,"size":4},"encoding":{"y":{"field":"md","type":"quantitative","title":"Speed (MPH)","axis":{"values":[0,10,20,30,40,50,60,70,80,90,100],"grid":false,"labelOverlap":false,"labelPadding":1,"titlePadding":4}}}},
{"data":{"values":[{"v":0}]},"mark":{"type":"rule","color":"#ee2020","strokeWidth":2.5,"strokeDash":[8,6]},"encoding":{"x":{"field":"v","type":"quantitative"}}}
]}]},
{"spacing":18,"hconcat":[
{"width":471,"height":294,"data":{"name":"d"},"transform":[{"filter":"datum.p=='c'"}],"title":{"text":"(c)\u00a0 7 PM\u201310 PM, Thur. June 2, 2022","orient":"bottom"},
"encoding":{"x":{"field":"x","type":"quantitative","title":"Distance from Queue Truck (in Thousands ft)","scale":{"domain":[-30,10],"reverse":true,"nice":false},"axis":{"values":[10,7.5,5,2.5,0,-2.5,-5,-7.5,-10,-12.5,-15,-17.5,-20,-22.5,-25,-27.5,-30],"labelExpr":"datum.value % 5 == 0 ? '' + datum.value : ''","tickOpacity":{"condition":{"test":"datum.value % 5 != 0","value":0},"value":1},"grid":true,"gridColor":"#e9ecef","labelPadding":0,"titlePadding":0}}},
"layer":[
{"mark":{"type":"rule","color":"#8f8f8f","strokeWidth":1},"encoding":{"y":{"field":"lo","type":"quantitative","title":"Speed (MPH)","scale":{"domain":[0,100],"nice":false},"axis":{"values":[0,10,20,30,40,50,60,70,80,90,100],"grid":false,"labelOverlap":false,"labelPadding":1,"titlePadding":4}},"y2":{"field":"hi"}}},
{"mark":{"type":"bar","fill":"#f0dba6","stroke":"#8a8a8a","strokeWidth":0.7,"width":5.9},"encoding":{"y":{"field":"q1","type":"quantitative","title":"Speed (MPH)","axis":{"values":[0,10,20,30,40,50,60,70,80,90,100],"grid":false,"labelOverlap":false,"labelPadding":1,"titlePadding":4}},"y2":{"field":"q3"}}},
{"mark":{"type":"tick","orient":"horizontal","color":"#111","thickness":1.8,"size":4},"encoding":{"y":{"field":"md","type":"quantitative","title":"Speed (MPH)","axis":{"values":[0,10,20,30,40,50,60,70,80,90,100],"grid":false,"labelOverlap":false,"labelPadding":1,"titlePadding":4}}}},
{"data":{"values":[{"v":0}]},"mark":{"type":"rule","color":"#ee2020","strokeWidth":2.5,"strokeDash":[8,6]},"encoding":{"x":{"field":"v","type":"quantitative"}}}
]},
{"width":471,"height":294,"data":{"name":"d"},"transform":[{"filter":"datum.p=='d'"}],"title":{"text":"(d)\u00a0 9 PM\u2013midnight, Fri. June 3, 2022","orient":"bottom"},
"encoding":{"x":{"field":"x","type":"quantitative","title":"Distance from Queue Truck (in Thousands ft)","scale":{"domain":[-30,10],"reverse":true,"nice":false},"axis":{"values":[10,7.5,5,2.5,0,-2.5,-5,-7.5,-10,-12.5,-15,-17.5,-20,-22.5,-25,-27.5,-30],"labelExpr":"datum.value % 5 == 0 ? '' + datum.value : ''","tickOpacity":{"condition":{"test":"datum.value % 5 != 0","value":0},"value":1},"grid":true,"gridColor":"#e9ecef","labelPadding":0,"titlePadding":0}}},
"layer":[
{"mark":{"type":"rule","color":"#8f8f8f","strokeWidth":1},"encoding":{"y":{"field":"lo","type":"quantitative","title":"Speed (MPH)","scale":{"domain":[0,100],"nice":false},"axis":{"values":[0,10,20,30,40,50,60,70,80,90,100],"grid":false,"labelOverlap":false,"labelPadding":1,"titlePadding":4}},"y2":{"field":"hi"}}},
{"mark":{"type":"bar","fill":"#f0dba6","stroke":"#8a8a8a","strokeWidth":0.7,"width":5.9},"encoding":{"y":{"field":"q1","type":"quantitative","title":"Speed (MPH)","axis":{"values":[0,10,20,30,40,50,60,70,80,90,100],"grid":false,"labelOverlap":false,"labelPadding":1,"titlePadding":4}},"y2":{"field":"q3"}}},
{"mark":{"type":"tick","orient":"horizontal","color":"#111","thickness":1.8,"size":4},"encoding":{"y":{"field":"md","type":"quantitative","title":"Speed (MPH)","axis":{"values":[0,10,20,30,40,50,60,70,80,90,100],"grid":false,"labelOverlap":false,"labelPadding":1,"titlePadding":4}}}},
{"data":{"values":[{"v":0}]},"mark":{"type":"rule","color":"#ee2020","strokeWidth":2.5,"strokeDash":[8,6]},"encoding":{"x":{"field":"v","type":"quantitative"}}}
]}]},
{"spacing":18,"hconcat":[
{"width":471,"height":294,"data":{"name":"d"},"transform":[{"filter":"datum.p=='e'"}],"title":{"text":"(e)\u00a0 8 PM\u201311 PM, Wed. June 8, 2022","orient":"bottom"},
"encoding":{"x":{"field":"x","type":"quantitative","title":"Distance from Queue Truck (in Thousands ft)","scale":{"domain":[-30,10],"reverse":true,"nice":false},"axis":{"values":[10,7.5,5,2.5,0,-2.5,-5,-7.5,-10,-12.5,-15,-17.5,-20,-22.5,-25,-27.5,-30],"labelExpr":"datum.value % 5 == 0 ? '' + datum.value : ''","tickOpacity":{"condition":{"test":"datum.value % 5 != 0","value":0},"value":1},"grid":true,"gridColor":"#e9ecef","labelPadding":0,"titlePadding":0}}},
"layer":[
{"mark":{"type":"rule","color":"#8f8f8f","strokeWidth":1},"encoding":{"y":{"field":"lo","type":"quantitative","title":"Speed (MPH)","scale":{"domain":[0,100],"nice":false},"axis":{"values":[0,10,20,30,40,50,60,70,80,90,100],"grid":false,"labelOverlap":false,"labelPadding":1,"titlePadding":4}},"y2":{"field":"hi"}}},
{"mark":{"type":"bar","fill":"#f0dba6","stroke":"#8a8a8a","strokeWidth":0.7,"width":5.9},"encoding":{"y":{"field":"q1","type":"quantitative","title":"Speed (MPH)","axis":{"values":[0,10,20,30,40,50,60,70,80,90,100],"grid":false,"labelOverlap":false,"labelPadding":1,"titlePadding":4}},"y2":{"field":"q3"}}},
{"mark":{"type":"tick","orient":"horizontal","color":"#111","thickness":1.8,"size":4},"encoding":{"y":{"field":"md","type":"quantitative","title":"Speed (MPH)","axis":{"values":[0,10,20,30,40,50,60,70,80,90,100],"grid":false,"labelOverlap":false,"labelPadding":1,"titlePadding":4}}}},
{"data":{"values":[{"v":0}]},"mark":{"type":"rule","color":"#ee2020","strokeWidth":2.5,"strokeDash":[8,6]},"encoding":{"x":{"field":"v","type":"quantitative"}}}
]},
{"width":471,"height":294,"data":{"name":"d"},"transform":[{"filter":"datum.p=='f'"}],"title":{"text":"(f)\u00a0 8 PM\u201311 PM, Thur. June 9, 2022","orient":"bottom"},
"encoding":{"x":{"field":"x","type":"quantitative","title":"Distance from Queue Truck (in Thousands ft)","scale":{"domain":[-30,10],"reverse":true,"nice":false},"axis":{"values":[10,7.5,5,2.5,0,-2.5,-5,-7.5,-10,-12.5,-15,-17.5,-20,-22.5,-25,-27.5,-30],"labelExpr":"datum.value % 5 == 0 ? '' + datum.value : ''","tickOpacity":{"condition":{"test":"datum.value % 5 != 0","value":0},"value":1},"grid":true,"gridColor":"#e9ecef","labelPadding":0,"titlePadding":0}}},
"layer":[
{"mark":{"type":"rule","color":"#8f8f8f","strokeWidth":1},"encoding":{"y":{"field":"lo","type":"quantitative","title":"Speed (MPH)","scale":{"domain":[0,100],"nice":false},"axis":{"values":[0,10,20,30,40,50,60,70,80,90,100],"grid":false,"labelOverlap":false,"labelPadding":1,"titlePadding":4}},"y2":{"field":"hi"}}},
{"mark":{"type":"bar","fill":"#f0dba6","stroke":"#8a8a8a","strokeWidth":0.7,"width":5.9},"encoding":{"y":{"field":"q1","type":"quantitative","title":"Speed (MPH)","axis":{"values":[0,10,20,30,40,50,60,70,80,90,100],"grid":false,"labelOverlap":false,"labelPadding":1,"titlePadding":4}},"y2":{"field":"q3"}}},
{"mark":{"type":"tick","orient":"horizontal","color":"#111","thickness":1.8,"size":4},"encoding":{"y":{"field":"md","type":"quantitative","title":"Speed (MPH)","axis":{"values":[0,10,20,30,40,50,60,70,80,90,100],"grid":false,"labelOverlap":false,"labelPadding":1,"titlePadding":4}}}},
{"data":{"values":[{"v":0}]},"mark":{"type":"rule","color":"#ee2020","strokeWidth":2.5,"strokeDash":[8,6]},"encoding":{"x":{"field":"v","type":"quantitative"}}}
]}]}
]
}
